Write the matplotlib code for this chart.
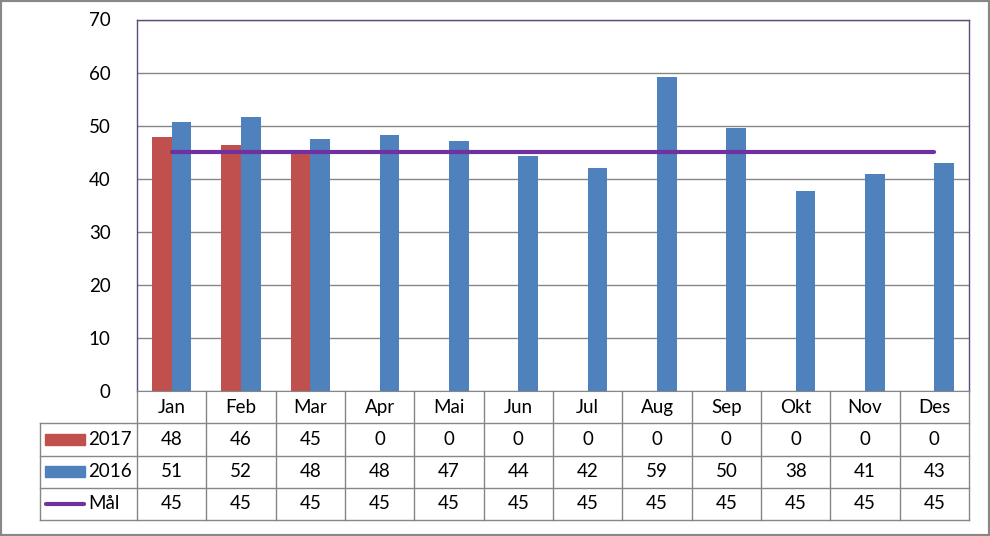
import numpy as np
import matplotlib.pyplot as plt
from matplotlib.patches import Rectangle
from matplotlib.lines import Line2D

months = ["Jan", "Feb", "Mar", "Apr", "Mai", "Jun", "Jul", "Aug", "Sep", "Okt", "Nov", "Des"]
v2017 = [47.9, 46.4, 45.0, 0, 0, 0, 0, 0, 0, 0, 0, 0]
v2016 = [50.7, 51.7, 47.5, 48.3, 47.2, 44.2, 42.1, 59.2, 49.6, 37.7, 40.8, 43.0]
maal = [45] * 12
series_names = ["2017", "2016", "Mål"]

RED = "#C0504D"
BLUE = "#4F81BD"
PURPLE = "#7030A0"
GRID = "#868686"
FRAME = "#604A7B"
FS = 13.5

plt.rcParams["font.family"] = ["Lato", "DejaVu Sans"]

W, H = 990, 536
fig = plt.figure(figsize=(W / 100, H / 100), dpi=100)

def px(x0, y0, x1, y1):
    # pixel box (top-left origin) -> figure fraction rect
    return [x0 / W, 1 - y1 / H, (x1 - x0) / W, (y1 - y0) / H]

left, right, top, bottom = 137, 969, 19.5, 391
ax = fig.add_axes(px(left, top, right, bottom))
n = len(months)
x = np.arange(n) + 0.5
bw = 0.285
ax.bar(x - bw / 2, v2017, bw, color=RED, zorder=2)
ax.bar(x + bw / 2, v2016, bw, color=BLUE, zorder=2)
ax.plot(x, maal, color=PURPLE, lw=3, zorder=3, solid_capstyle="round")

ax.set_xlim(0, n)
ax.set_ylim(0, 70)
ax.set_yticks(range(0, 71, 10))
ax.set_xticks([])
ax.tick_params(axis="y", length=0, pad=19, labelsize=FS)
ax.yaxis.grid(True, color=GRID, lw=1)
ax.set_axisbelow(True)
for s in ["left", "top", "right"]:
    ax.spines[s].set_color(FRAME)
    ax.spines[s].set_linewidth(1)
ax.spines["bottom"].set_color(GRID)

# data table underneath
tleft, tbottom = 40, 520
cw = (right - left) / n
tab = fig.add_axes(px(tleft, bottom, right, tbottom))
x0 = -(left - tleft) / cw
tab.set_xlim(x0, n)
tab.set_ylim(4, 0)
tab.axis("off")
for i in range(n + 1):
    tab.plot([i, i], [0, 4], color=GRID, lw=1, clip_on=False)
tab.plot([x0, x0], [1, 4], color=GRID, lw=1, clip_on=False)
for r in range(1, 5):
    tab.plot([x0, n], [r, r], color=GRID, lw=1, clip_on=False)

for i, m in enumerate(months):
    tab.text(i + 0.5, 0.5, m, ha="center", va="center", fontsize=FS)
rows = [v2017, v2016, maal]
for r, vals in enumerate(rows):
    yc = r + 1.5
    for i, v in enumerate(vals):
        tab.text(i + 0.5, yc, f"{v:.0f}", ha="center", va="center", fontsize=FS)
    tab.text(x0 + 0.70, yc, series_names[r], ha="left", va="center", fontsize=FS)

kx0, kx1 = x0 + 5 / cw, x0 + 45 / cw
kh = 11 / 32.25
for r, c in enumerate([RED, BLUE]):
    tab.add_patch(Rectangle((kx0, r + 1.5 - kh / 2), kx1 - kx0, kh, color=c, clip_on=False))
tab.add_line(Line2D([kx0 + 0.02, kx1 - 0.02], [3.5, 3.5], color=PURPLE, lw=3,
                    solid_capstyle="round", clip_on=False))

# outer frame
fig.add_artist(Rectangle((0, 0), 1, 1, transform=fig.transFigure, fill=False,
                         edgecolor="#888888", lw=3))

fig.savefig("out.png", dpi=100)
